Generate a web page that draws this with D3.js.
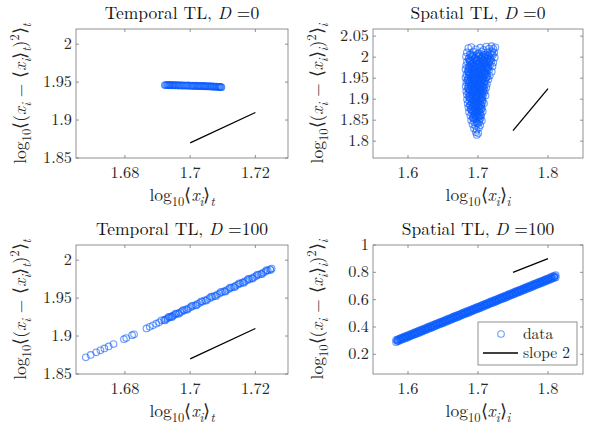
<!DOCTYPE html>
<html>
<head>
<meta charset="utf-8">
<script src="https://cdn.jsdelivr.net/npm/d3@7"></script>
<style>
  body { margin: 0; background: #fff; }
</style>
</head>
<body>
<div id="fig"></div>
<script>
// ---- data ----
var tempX0 = [1.6922,1.6925,1.6928,1.6931,1.6933,1.6935,1.6937,1.6939,1.6941,1.6944,1.6946,1.6948,1.6950,1.6953,1.6955,1.6958,1.6961,1.6964,1.6966,1.6969,1.6972,1.6975,1.6978,1.6981,1.6985,1.6988,1.6991,1.6994,1.6998,1.7001,1.7004,1.7007,1.7010,1.7012,1.7015,1.7018,1.7021,1.7024,1.7026,1.7029,1.7032,1.7035,1.7037,1.7040,1.7042,1.7045,1.7047,1.7050,1.7052,1.7055,1.7058,1.7061,1.7063,1.7066,1.7068,1.7071,1.7073,1.7076,1.7078,1.7081,1.7083,1.7086,1.7088,1.7090,1.7092,1.7094,1.7096];
var tempY0 = [1.9462,1.9459,1.9461,1.9463,1.9461,1.9458,1.9460,1.9462,1.9460,1.9457,1.9459,1.9461,1.9459,1.9456,1.9458,1.9460,1.9457,1.9455,1.9457,1.9459,1.9456,1.9453,1.9455,1.9457,1.9454,1.9452,1.9454,1.9456,1.9453,1.9450,1.9452,1.9455,1.9451,1.9449,1.9450,1.9453,1.9449,1.9447,1.9449,1.9451,1.9448,1.9446,1.9447,1.9450,1.9446,1.9444,1.9445,1.9448,1.9444,1.9442,1.9443,1.9446,1.9442,1.9440,1.9441,1.9444,1.9440,1.9438,1.9439,1.9442,1.9438,1.9436,1.9436,1.9439,1.9435,1.9433,1.9434];

var tempX100 = [1.6680,1.6695,1.6712,1.6725,1.6737,1.6750,1.6765,1.6797,1.6804,1.6822,1.6828,1.6866,1.6876,1.6886,1.6896,1.6905,1.6920,1.6926,1.6931,1.6936,1.6941,1.6946,1.6951,1.6957,1.6963,1.6969,1.6975,1.6982,1.6988,1.6995,1.7002,1.7009,1.7016,1.7023,1.7030,1.7038,1.7045,1.7053,1.7060,1.7068,1.7075,1.7083,1.7090,1.7098,1.7105,1.7112,1.7119,1.7126,1.7133,1.7140,1.7147,1.7154,1.7161,1.7168,1.7175,1.7182,1.7189,1.7196,1.7203,1.7210,1.7217,1.7224,1.7231,1.7238,1.7245,1.7250];
var tempY100 = [1.8720,1.8751,1.8786,1.8812,1.8837,1.8864,1.8894,1.8959,1.8974,1.9011,1.9023,1.9101,1.9122,1.9142,1.9163,1.9181,1.9212,1.9224,1.9235,1.9245,1.9255,1.9265,1.9276,1.9288,1.9300,1.9313,1.9325,1.9339,1.9352,1.9366,1.9380,1.9395,1.9409,1.9424,1.9438,1.9454,1.9469,1.9485,1.9499,1.9516,1.9530,1.9547,1.9561,1.9577,1.9592,1.9606,1.9620,1.9635,1.9649,1.9664,1.9678,1.9692,1.9707,1.9721,1.9735,1.9750,1.9764,1.9778,1.9792,1.9807,1.9821,1.9836,1.9850,1.9864,1.9879,1.9889];
// overlapping points along the denser upper part
var tempX100b = [1.6912,1.6923,1.6934,1.6944,1.6955,1.6966,1.6978,1.6991,1.7005,1.7019,1.7034,1.7049,1.7064,1.7079,1.7094,1.7108,1.7122,1.7136,1.7150,1.7164,1.7178,1.7192,1.7206,1.7220,1.7234,1.7247];
var tempY100b = [1.9208,1.9206,1.9253,1.9249,1.9296,1.9294,1.9343,1.9346,1.9398,1.9403,1.9458,1.9465,1.9519,1.9526,1.9581,1.9585,1.9638,1.9643,1.9696,1.9700,1.9753,1.9758,1.9810,1.9815,1.9868,1.9870];

var spatial0 = [
  [1.6862,2.0215],[1.6905,2.0242],[1.6968,2.0188],[1.7031,2.0226],[1.7079,2.0173],[1.7118,2.0251],[1.7157,2.0204],[1.7193,2.0262],[1.7221,2.0197],[1.7248,2.0233],
  [1.6841,2.0112],[1.6883,2.0071],[1.6932,2.0135],[1.7004,2.0094],[1.7052,2.0128],[1.7093,2.0061],[1.7134,2.0117],[1.7172,2.0083],[1.7203,2.0142],[1.7232,2.0109],
  [1.6828,2.0013],[1.6871,1.9978],[1.6912,2.0036],[1.6958,1.9992],[1.7011,2.0021],[1.7043,1.9967],[1.7071,2.0045],[1.7102,1.9983],[1.7141,2.0027],[1.7183,1.9961],[1.7212,2.0052],[1.7239,1.9994],
  [1.6843,1.9894],[1.6884,1.9928],[1.6922,1.9863],[1.6979,1.9911],[1.7022,1.9872],[1.7061,1.9935],[1.7092,1.9881],[1.7124,1.9918],[1.7153,1.9857],[1.7191,1.9904],[1.7218,1.9869],
  [1.6831,1.9806],[1.6862,1.9772],[1.6903,1.9831],[1.6941,1.9785],[1.6993,1.9818],[1.7032,1.9762],[1.7071,1.9827],[1.7109,1.9791],[1.7138,1.9753],[1.7172,1.9812],[1.7207,1.9778],
  [1.6822,1.9714],[1.6858,1.9673],[1.6891,1.9731],[1.6934,1.9688],[1.6972,1.9722],[1.7013,1.9661],[1.7042,1.9709],[1.7083,1.9676],[1.7119,1.9735],[1.7158,1.9692],[1.7196,1.9655],
  [1.6834,1.9589],[1.6872,1.9628],[1.6909,1.9571],[1.6948,1.9612],[1.6983,1.9563],[1.7021,1.9618],[1.7058,1.9581],[1.7092,1.9634],[1.7129,1.9592],[1.7168,1.9557],
  [1.6821,1.9512],[1.6853,1.9478],[1.6894,1.9521],[1.6931,1.9466],[1.6969,1.9503],[1.7002,1.9459],[1.7039,1.9527],[1.7071,1.9484],[1.7112,1.9513],[1.7149,1.9471],
  [1.6833,1.9395],[1.6862,1.9428],[1.6901,1.9373],[1.6942,1.9412],[1.6981,1.9366],[1.7018,1.9421],[1.7053,1.9382],[1.7089,1.9407],[1.7128,1.9361],
  [1.6824,1.9302],[1.6859,1.9271],[1.6897,1.9318],[1.6932,1.9263],[1.6971,1.9296],[1.7009,1.9327],[1.7042,1.9268],[1.7081,1.9305],[1.7118,1.9279],
  [1.6832,1.9187],[1.6871,1.9224],[1.6912,1.9169],[1.6949,1.9208],[1.6988,1.9161],[1.7021,1.9215],[1.7062,1.9176],[1.7098,1.9203],
  [1.6841,1.9108],[1.6879,1.9072],[1.6918,1.9119],[1.6961,1.9063],[1.6998,1.9097],[1.7032,1.9124],[1.7069,1.9071],[1.7108,1.9089],
  [1.6843,1.8991],[1.6882,1.9028],[1.6921,1.8967],[1.6963,1.9005],[1.6992,1.8958],[1.7031,1.9012],[1.7068,1.8975],
  [1.6852,1.8896],[1.6891,1.8861],[1.6932,1.8913],[1.6968,1.8872],[1.7009,1.8921],[1.7048,1.8868],[1.7087,1.8902],
  [1.6863,1.8803],[1.6901,1.8768],[1.6942,1.8821],[1.6979,1.8774],[1.7021,1.8812],[1.7058,1.8783],
  [1.6872,1.8697],[1.6912,1.8731],[1.6951,1.8672],[1.6989,1.8718],[1.7029,1.8684],[1.7068,1.8709],
  [1.6891,1.8603],[1.6928,1.8569],[1.6972,1.8621],[1.7008,1.8578],[1.7047,1.8612],
  [1.6902,1.8498],[1.6941,1.8531],[1.6979,1.8472],[1.7018,1.8513],[1.7056,1.8486],
  [1.6921,1.8403],[1.6962,1.8368],[1.6998,1.8417],[1.7031,1.8381],
  [1.6943,1.8302],[1.6981,1.8271],[1.7012,1.8318],
  [1.6968,1.8213],[1.7003,1.8188],
  [1.6983,1.8149]
];
// the packed core of the same cloud
var spatial0Core = [
  [1.6895,2.0052],[1.6935,2.0031],[1.6985,2.0068],[1.7025,2.0043],[1.7065,2.0019],[1.7105,2.0061],[1.7155,2.0037],[1.7195,2.0074],
  [1.6865,1.9962],[1.6905,1.9931],[1.6955,1.9957],[1.6995,1.9938],[1.7045,1.9971],[1.7085,1.9926],[1.7135,1.9963],[1.7175,1.9942],
  [1.6885,1.9868],[1.6925,1.9837],[1.6965,1.9859],[1.7015,1.9829],[1.7055,1.9866],[1.7095,1.9841],[1.7155,1.9873],
  [1.6875,1.9762],[1.6915,1.9738],[1.6955,1.9771],[1.6995,1.9745],[1.7035,1.9768],[1.7065,1.9731],[1.7105,1.9759],[1.7145,1.9742],
  [1.6855,1.9661],[1.6895,1.9628],[1.6935,1.9657],[1.6975,1.9639],[1.7005,1.9668],[1.7045,1.9633],[1.7085,1.9652],[1.7115,1.9627],
  [1.6875,1.9563],[1.6915,1.9538],[1.6955,1.9569],[1.6995,1.9531],[1.7025,1.9558],[1.7065,1.9542],[1.7095,1.9566],[1.7135,1.9535],
  [1.6845,1.9456],[1.6885,1.9437],[1.6925,1.9462],[1.6965,1.9431],[1.7005,1.9458],[1.7035,1.9441],[1.7075,1.9467],[1.7105,1.9429],
  [1.6865,1.9358],[1.6905,1.9332],[1.6945,1.9361],[1.6985,1.9339],[1.7025,1.9355],[1.7065,1.9328],[1.7095,1.9352],
  [1.6855,1.9257],[1.6895,1.9231],[1.6935,1.9262],[1.6975,1.9238],[1.7015,1.9259],[1.7045,1.9228],[1.7085,1.9251],
  [1.6865,1.9153],[1.6905,1.9128],[1.6945,1.9161],[1.6985,1.9137],[1.7015,1.9158],[1.7055,1.9132],[1.7085,1.9149],
  [1.6865,1.9058],[1.6905,1.9031],[1.6945,1.9063],[1.6975,1.9037],[1.7015,1.9055],[1.7055,1.9032],
  [1.6875,1.8953],[1.6915,1.8928],[1.6955,1.8961],[1.6995,1.8937],[1.7035,1.8958],[1.7065,1.8931],
  [1.6885,1.8852],[1.6925,1.8829],[1.6965,1.8861],[1.7005,1.8836],[1.7045,1.8855],
  [1.6895,1.8758],[1.6935,1.8731],[1.6975,1.8762],[1.7015,1.8739],[1.7045,1.8757],
  [1.6915,1.8652],[1.6955,1.8631],[1.6995,1.8661],[1.7035,1.8638],
  [1.6925,1.8553],[1.6965,1.8532],[1.7005,1.8561],[1.7035,1.8539],
  [1.6945,1.8452],[1.6985,1.8431],[1.7015,1.8458]
];
var spatial0Core2 = [
  [1.6915,2.0008],[1.6962,1.9985],[1.7008,2.0012],[1.7052,1.9989],[1.7098,2.0006],[1.7142,1.9981],
  [1.6878,1.9912],[1.6941,1.9897],[1.6988,1.9921],[1.7034,1.9893],[1.7079,1.9915],[1.7119,1.9889],[1.7164,1.9908],
  [1.6897,1.9812],[1.6945,1.9798],[1.6991,1.9823],[1.7038,1.9794],[1.7088,1.9817],[1.7127,1.9796],
  [1.6867,1.9713],[1.6912,1.9698],[1.6958,1.9721],[1.7003,1.9694],[1.7051,1.9717],[1.7097,1.9692],[1.7138,1.9715],
  [1.6883,1.9612],[1.6928,1.9597],[1.6972,1.9619],[1.7012,1.9594],[1.7056,1.9616],[1.7101,1.9598],
  [1.6862,1.9511],[1.6908,1.9493],[1.6949,1.9516],[1.6988,1.9489],[1.7031,1.9512],[1.7078,1.9494],[1.7121,1.9508],
  [1.6878,1.9408],[1.6918,1.9391],[1.6961,1.9413],[1.7002,1.9388],[1.7045,1.9409],[1.7085,1.9392],
  [1.6869,1.9312],[1.6911,1.9293],[1.6953,1.9315],[1.6995,1.9291],[1.7036,1.9313],[1.7072,1.9294],
  [1.6878,1.9211],[1.6921,1.9193],[1.6962,1.9214],[1.7003,1.9191],[1.7041,1.9212],[1.7075,1.9195],
  [1.6885,1.9108],[1.6928,1.9092],[1.6971,1.9113],[1.7008,1.9089],[1.7048,1.9107],
  [1.6893,1.9008],[1.6935,1.8991],[1.6976,1.9012],[1.7018,1.8989],[1.7052,1.9006],
  [1.6905,1.8908],[1.6948,1.8891],[1.6988,1.8911],[1.7026,1.8893],
  [1.6918,1.8808],[1.6958,1.8791],[1.6998,1.8812],[1.7036,1.8794],
  [1.6931,1.8708],[1.6971,1.8693],[1.7011,1.8712],
  [1.6942,1.8608],[1.6985,1.8593],[1.7021,1.8611]
];

var spX100 = [1.583,1.587,1.591,1.595,1.599,1.603,1.607,1.611,1.615,1.619,1.623,1.627,1.631,1.635,1.639,1.643,1.647,1.651,1.655,1.659,1.663,1.667,1.671,1.675,1.679,1.683,1.687,1.691,1.695,1.699,1.703,1.707,1.711,1.715,1.719,1.723,1.727,1.731,1.735,1.739,1.743,1.747,1.751,1.755,1.759,1.763,1.767,1.771,1.775,1.779,1.783,1.787,1.791,1.795,1.799,1.803,1.807,1.811];
var spYhi100 = [0.306,0.313,0.323,0.331,0.339,0.347,0.356,0.364,0.373,0.381,0.389,0.397,0.406,0.414,0.423,0.431,0.439,0.447,0.456,0.464,0.472,0.481,0.489,0.497,0.506,0.514,0.522,0.530,0.539,0.547,0.555,0.564,0.572,0.581,0.589,0.597,0.605,0.614,0.622,0.630,0.638,0.647,0.655,0.664,0.672,0.680,0.688,0.697,0.705,0.713,0.722,0.730,0.738,0.747,0.755,0.764,0.772,0.779];
var spYlo100 = [0.289,0.297,0.306,0.314,0.322,0.331,0.339,0.347,0.355,0.364,0.372,0.380,0.389,0.397,0.406,0.414,0.422,0.430,0.439,0.447,0.455,0.464,0.472,0.480,0.489,0.497,0.505,0.513,0.522,0.530,0.538,0.547,0.555,0.564,0.572,0.580,0.588,0.597,0.605,0.613,0.621,0.630,0.638,0.647,0.655,0.663,0.671,0.680,0.688,0.696,0.705,0.713,0.721,0.730,0.738,0.746,0.755,0.763];
var spXmid100 = [1.585,1.589,1.593,1.597,1.601,1.605,1.609,1.613,1.617,1.621,1.625,1.629,1.633,1.637,1.641,1.645,1.649,1.653,1.657,1.661,1.665,1.669,1.673,1.677,1.681,1.685,1.689,1.693,1.697,1.701,1.705,1.709,1.713,1.717,1.721,1.725,1.729,1.733,1.737,1.741,1.745,1.749,1.753,1.757,1.761,1.765,1.769,1.773,1.777,1.781,1.785,1.789,1.793,1.797,1.801,1.805,1.809];
var spYmid100 = [0.301,0.310,0.318,0.326,0.334,0.343,0.351,0.359,0.368,0.376,0.384,0.393,0.401,0.409,0.418,0.426,0.434,0.443,0.451,0.459,0.468,0.476,0.484,0.493,0.501,0.509,0.518,0.526,0.534,0.542,0.551,0.559,0.567,0.576,0.584,0.592,0.601,0.609,0.617,0.626,0.634,0.642,0.651,0.659,0.667,0.676,0.684,0.692,0.701,0.709,0.717,0.726,0.734,0.742,0.750,0.759,0.767];
var spYmidHi100 = [0.307,0.316,0.324,0.332,0.340,0.349,0.357,0.365,0.374,0.382,0.390,0.399,0.407,0.415,0.424,0.432,0.440,0.449,0.457,0.465,0.474,0.482,0.490,0.499,0.507,0.515,0.524,0.532,0.540,0.548,0.557,0.565,0.573,0.582,0.590,0.598,0.607,0.615,0.623,0.632,0.640,0.648,0.657,0.665,0.673,0.682,0.690,0.698,0.707,0.715,0.723,0.732,0.740,0.748,0.756,0.765,0.773];
var spYmidLo100 = [0.295,0.304,0.312,0.320,0.328,0.337,0.345,0.353,0.362,0.370,0.378,0.387,0.395,0.403,0.412,0.420,0.428,0.437,0.445,0.453,0.462,0.470,0.478,0.487,0.495,0.503,0.512,0.520,0.528,0.536,0.545,0.553,0.561,0.570,0.578,0.586,0.595,0.603,0.611,0.620,0.628,0.636,0.645,0.653,0.661,0.670,0.678,0.686,0.695,0.703,0.711,0.720,0.728,0.736,0.744,0.753,0.761];

// slope-2 guide lines [x0,y0,x1,y1]
var slopeTemp = [1.70, 1.87, 1.72, 1.91];
var slopeSp0 = [1.75, 1.825, 1.80, 1.925];
var slopeSp100 = [1.75, 0.80, 1.80, 0.90];

var tempXTicks = [1.68, 1.70, 1.72];
var tempXLabels = ["1.68", "1.7", "1.72"];
var tempYTicks = [1.85, 1.90, 1.95, 2.00];
var tempYLabels = ["1.85", "1.9", "1.95", "2"];
var spXTicks = [1.6, 1.7, 1.8];
var spXLabels = ["1.6", "1.7", "1.8"];
var sp0YTicks = [1.80, 1.85, 1.90, 1.95, 2.00, 2.05];
var sp0YLabels = ["1.8", "1.85", "1.9", "1.95", "2", "2.05"];
var sp100YTicks = [0.2, 0.4, 0.6, 0.8, 1.0];
var sp100YLabels = ["0.2", "0.4", "0.6", "0.8", "1"];

var legendLabels = ["data", "slope 2"];

// ---- drawing ----
var width = 591, height = 428;
var blue = "#0a5cff";
var lm = "Latin Modern Roman";

var svg = d3.select("#fig").append("svg")
    .attr("width", width)
    .attr("height", height);

// math-ish label from parts: [text, kind]  kind: n, i, sub, subi, sup
function mathText(sel, parts, size) {
    var shift = 0;
    parts.forEach(function (p) {
        var kind = p[1];
        var target = 0, fs = size;
        if (kind == "sub" || kind == "subi") { target = size * 0.28; fs = size * 0.72; }
        if (kind == "sup") { target = -size * 0.4; fs = size * 0.72; }
        sel.append("tspan")
            .attr("dy", target - shift)
            .style("font-family", lm)
            .style("font-size", fs + "px")
            .style("font-style", (kind == "i" || kind == "subi") ? "italic" : "normal")
            .text(p[0]);
        shift = target;
    });
}

function drawPanel(cfg) {
    var g = svg.append("g").attr("transform", "translate(" + cfg.left + "," + cfg.top + ")");
    var w = cfg.w, h = cfg.h;
    var x = d3.scaleLinear().domain(cfg.xDomain).range([0, w]);
    var y = d3.scaleLinear().domain(cfg.yDomain).range([h, 0]);

    g.append("rect").attr("width", w).attr("height", h)
        .attr("fill", "none").attr("stroke", "#777").attr("stroke-width", 0.8);

    // inward ticks on all four sides
    var tl = 3;
    g.append("g").selectAll("line").data(cfg.xTicks).enter().append("line")
        .attr("x1", function (d) { return x(d); }).attr("x2", function (d) { return x(d); })
        .attr("y1", h).attr("y2", h - tl).attr("stroke", "#777").attr("stroke-width", 0.8);
    g.append("g").selectAll("line").data(cfg.xTicks).enter().append("line")
        .attr("x1", function (d) { return x(d); }).attr("x2", function (d) { return x(d); })
        .attr("y1", 0).attr("y2", tl).attr("stroke", "#777").attr("stroke-width", 0.8);
    g.append("g").selectAll("line").data(cfg.yTicks).enter().append("line")
        .attr("y1", function (d) { return y(d); }).attr("y2", function (d) { return y(d); })
        .attr("x1", 0).attr("x2", tl).attr("stroke", "#777").attr("stroke-width", 0.8);
    g.append("g").selectAll("line").data(cfg.yTicks).enter().append("line")
        .attr("y1", function (d) { return y(d); }).attr("y2", function (d) { return y(d); })
        .attr("x1", w).attr("x2", w - tl).attr("stroke", "#777").attr("stroke-width", 0.8);

    g.append("g").selectAll("text").data(cfg.xTicks).enter().append("text")
        .attr("x", function (d) { return x(d); })
        .attr("y", h + 19.5)
        .style("text-anchor", "middle")
        .style("font-family", lm)
        .style("font-size", "16.3px")
        .attr("fill", "#262626")
        .text(function (d, i) { return cfg.xLabels[i]; });
    g.append("g").selectAll("text").data(cfg.yTicks).enter().append("text")
        .attr("x", -4)
        .attr("y", function (d) { return y(d) + 5; })
        .style("text-anchor", "end")
        .style("font-family", lm)
        .style("font-size", "16.3px")
        .attr("fill", "#262626")
        .text(function (d, i) { return cfg.yLabels[i]; });

    // data circles
    g.append("g").selectAll("circle").data(cfg.points).enter().append("circle")
        .attr("cx", function (d) { return x(d[0]); })
        .attr("cy", function (d) { return y(d[1]); })
        .attr("r", 3.3)
        .attr("fill", "none")
        .attr("stroke", blue)
        .attr("stroke-opacity", 0.6)
        .attr("stroke-width", 1.1);

    // slope 2 line
    g.append("line")
        .attr("x1", x(cfg.slope[0])).attr("y1", y(cfg.slope[1]))
        .attr("x2", x(cfg.slope[2])).attr("y2", y(cfg.slope[3]))
        .attr("stroke", "black").attr("stroke-width", 1.3);

    var title = g.append("text").attr("x", w / 2).attr("y", -10)
        .style("text-anchor", "middle").style("font-family", lm).attr("fill", "#111");
    mathText(title, cfg.title, 17.5);

    var xl = g.append("text").attr("x", w / 2).attr("y", h + 43)
        .style("text-anchor", "middle").style("font-family", lm).attr("fill", "#262626");
    mathText(xl, cfg.xlabel, 17.5);

    var yl = g.append("text")
        .attr("transform", "translate(" + (-cfg.ylabOff) + "," + (h / 2) + ") rotate(-90)")
        .style("text-anchor", "middle").style("font-family", lm).attr("fill", "#262626");
    mathText(yl, cfg.ylabel, 17.5);

    return { g: g, x: x, y: y, w: w, h: h };
}

var tempXlab = [["log", "n"], ["10", "sub"], ["\u27E8", "n"], ["x", "i"], ["i", "subi"], ["\u27E9", "n"], ["t", "subi"]];
var tempYlab = [["log", "n"], ["10", "sub"], ["\u27E8(", "n"], ["x", "i"], ["i", "subi"], [" \u2212 \u27E8", "n"], ["x", "i"], ["i", "subi"], ["\u27E9", "n"], ["t", "subi"], [")", "n"], ["2", "sup"], ["\u27E9", "n"], ["t", "subi"]];
var spXlab = [["log", "n"], ["10", "sub"], ["\u27E8", "n"], ["x", "i"], ["i", "subi"], ["\u27E9", "n"], ["i", "subi"]];
var spYlab = [["log", "n"], ["10", "sub"], ["\u27E8(", "n"], ["x", "i"], ["i", "subi"], [" \u2212 \u27E8", "n"], ["x", "i"], ["i", "subi"], ["\u27E9", "n"], ["i", "subi"], [")", "n"], ["2", "sup"], ["\u27E9", "n"], ["i", "subi"]];

drawPanel({
    left: 76, top: 29, w: 212, h: 129,
    xDomain: [1.665, 1.73], yDomain: [1.85, 2.02],
    xTicks: tempXTicks, xLabels: tempXLabels, yTicks: tempYTicks, yLabels: tempYLabels,
    points: d3.zip(tempX0, tempY0), slope: slopeTemp,
    title: [["Temporal TL, ", "n"], ["D", "i"], [" =0", "n"]],
    xlabel: tempXlab, ylabel: tempYlab, ylabOff: 50
});
drawPanel({
    left: 373, top: 29, w: 210, h: 129,
    xDomain: [1.55, 1.85], yDomain: [1.76, 2.067],
    xTicks: spXTicks, xLabels: spXLabels, yTicks: sp0YTicks, yLabels: sp0YLabels,
    points: spatial0.concat(spatial0Core, spatial0Core2), slope: slopeSp0,
    title: [["Spatial TL, ", "n"], ["D", "i"], [" =0", "n"]],
    xlabel: spXlab, ylabel: spYlab, ylabOff: 50
});
drawPanel({
    left: 76, top: 245, w: 212, h: 129,
    xDomain: [1.665, 1.73], yDomain: [1.85, 2.02],
    xTicks: tempXTicks, xLabels: tempXLabels, yTicks: tempYTicks, yLabels: tempYLabels,
    points: d3.zip(tempX100, tempY100).concat(d3.zip(tempX100b, tempY100b)), slope: slopeTemp,
    title: [["Temporal TL, ", "n"], ["D", "i"], [" =100", "n"]],
    xlabel: tempXlab, ylabel: tempYlab, ylabOff: 50
});
var p4 = drawPanel({
    left: 373, top: 245, w: 210, h: 129,
    xDomain: [1.55, 1.85], yDomain: [0.056, 1.0],
    xTicks: spXTicks, xLabels: spXLabels, yTicks: sp100YTicks, yLabels: sp100YLabels,
    points: d3.zip(spX100, spYhi100).concat(
        d3.zip(spX100, spYlo100),
        d3.zip(spXmid100, spYmid100),
        d3.zip(spXmid100, spYmidHi100),
        d3.zip(spXmid100, spYmidLo100)),
    slope: slopeSp100,
    title: [["Spatial TL, ", "n"], ["D", "i"], [" =100", "n"]],
    xlabel: spXlab, ylabel: spYlab, ylabOff: 50
});

// legend
var lg = p4.g.append("g").attr("transform", "translate(" + (p4.w - 105) + "," + (p4.h - 52) + ")");
lg.append("rect").attr("width", 99).attr("height", 43)
    .attr("fill", "white").attr("stroke", "#777").attr("stroke-width", 0.8);
lg.append("circle").attr("cx", 23).attr("cy", 12).attr("r", 3.3)
    .attr("fill", "none").attr("stroke", blue).attr("stroke-opacity", 0.6).attr("stroke-width", 1.1);
lg.append("line").attr("x1", 5).attr("x2", 40).attr("y1", 31).attr("y2", 31)
    .attr("stroke", "black").attr("stroke-width", 1.3);
lg.selectAll(".lt").data(legendLabels).enter().append("text")
    .attr("x", 45)
    .attr("y", function (d, i) { return 17 + i * 19; })
    .style("font-family", lm)
    .style("font-size", "15.5px")
    .attr("fill", "#262626")
    .text(function (d) { return d; });
</script>
</body>
</html>
